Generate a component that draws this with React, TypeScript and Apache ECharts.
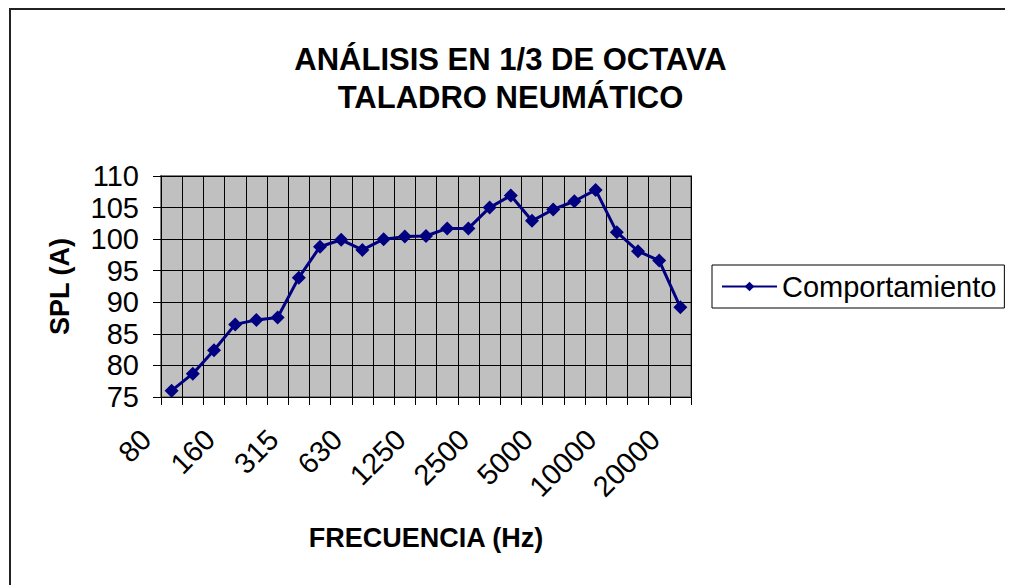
import React, { useEffect, useRef } from "react";
import * as echarts from "echarts";

const categories = [
  "80", "100", "125", "160", "200", "250", "315", "400", "500", "630", "800", "1000", "1250",
  "1600", "2000", "2500", "3150", "4000", "5000", "6300", "8000", "10000", "12500", "16000", "20000",
];
const comportamiento = [
  76.0, 78.7, 82.4, 86.5, 87.2, 87.6, 93.9, 98.8, 99.9, 98.3, 100.0, 100.4, 100.5,
  101.7, 101.7, 105.0, 106.9, 102.9, 104.7, 106.0, 107.8, 101.1, 98.1, 96.6, 89.2,
];
const yTicks = { min: 75, max: 110, interval: 5 };
const titleLines = ["ANÁLISIS EN 1/3 DE OCTAVA", "TALADRO NEUMÁTICO"];
const seriesName = "Comportamiento";
const xName = "FRECUENCIA (Hz)";
const yName = "SPL (A)";

const FONT = "'Liberation Sans', Arial, Helvetica, sans-serif";
const NAVY = "#000080";

export default function App() {
  const ref = useRef<HTMLDivElement>(null);
  useEffect(() => {
    if (!ref.current) return;
    const prevOverflow = document.documentElement.style.overflow;
    document.documentElement.style.overflow = "hidden";
    const chart = echarts.init(ref.current, null, { renderer: "svg" });
    chart.setOption({
      animation: false,
      backgroundColor: "#ffffff",
      textStyle: { fontFamily: FONT, color: "#000" },
      title: {
        text: titleLines.join("\n"),
        left: "center",
        top: 27,
        textStyle: { fontFamily: FONT, fontSize: 31, fontWeight: "bold", color: "#000", lineHeight: 38 },
      },
      legend: {
        left: 704,
        top: 257,
        orient: "vertical",
        padding: [7, 8, 7, 9],
        borderColor: "#000",
        borderWidth: 1,
        itemWidth: 55,
        itemHeight: 12,
        textStyle: { fontFamily: FONT, fontSize: 29, color: "#000" },
        data: [{ name: seriesName }],
      },
      grid: {
        left: 153,
        top: 168,
        width: 530,
        height: 221,
        show: true,
        backgroundColor: "#c0c0c0",
        borderColor: "#808080",
        borderWidth: 2,
      },
      xAxis: {
        type: "category",
        data: categories,
        boundaryGap: true,
        name: xName,
        nameLocation: "middle",
        nameGap: 127,
        nameTextStyle: { fontFamily: FONT, fontSize: 27, fontWeight: "bold", color: "#000" },
        axisLine: { show: true, lineStyle: { color: "#000", width: 1 } },
        axisTick: { show: true, interval: 0, length: 8, lineStyle: { color: "#000" } },
        splitLine: { show: true, interval: 0, lineStyle: { color: "#000", width: 1 } },
        axisLabel: {
          interval: 2,
          rotate: 45,
          margin: 12,
          padding: [0, 36, 0, 0],
          fontFamily: FONT,
          fontSize: 29,
          color: "#000",
        },
      },
      yAxis: {
        type: "value",
        min: yTicks.min,
        max: yTicks.max,
        interval: yTicks.interval,
        name: yName,
        nameLocation: "middle",
        nameGap: 88,
        nameTextStyle: { fontFamily: FONT, fontSize: 27, fontWeight: "bold", color: "#000" },
        axisLine: { show: true, lineStyle: { color: "#000", width: 1 } },
        axisTick: { show: true, length: 8, lineStyle: { color: "#000" } },
        splitLine: { show: true, lineStyle: { color: "#000", width: 1 } },
        axisLabel: { margin: 22, fontFamily: FONT, fontSize: 29, color: "#000" },
      },
      series: [
        {
          name: seriesName,
          type: "line",
          data: comportamiento,
          symbol: "diamond",
          symbolSize: 14,
          itemStyle: { color: NAVY },
          lineStyle: { color: NAVY, width: 3 },
        },
      ],
      graphic: [
        {
          type: "polyline",
          silent: true,
          shape: { points: [[2, 577], [2, 1], [1005, 1]] },
          style: { fill: "none", stroke: "#222", lineWidth: 2 },
        },
      ],
    });
    return () => {
      chart.dispose();
      document.documentElement.style.overflow = prevOverflow;
    };
  }, []);
  return <div ref={ref} style={{ width: 1005, height: 577 }} />;
}
